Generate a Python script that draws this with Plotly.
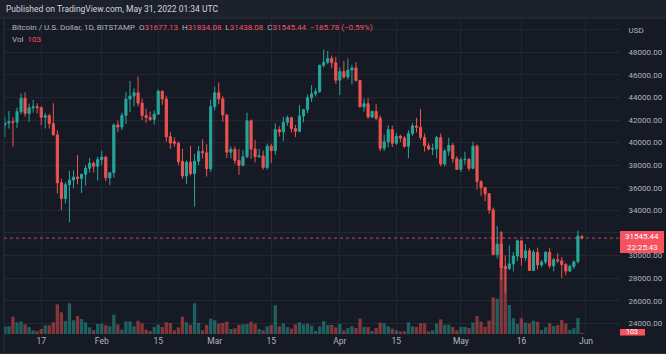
import pandas as pd
import plotly.graph_objects as go

dates = pd.date_range("2022-01-08", "2022-05-31", freq="D")

open_ = [
    # Jan 8-31
    41560, 41730, 41850, 41820, 42740, 43930, 42590, 43080, 43180, 43100, 42250, 42380,
    41690, 40700, 36450, 35050, 36270, 36690, 36950, 36820, 37200, 37730, 38170, 37900,
    # Feb
    38500, 38720, 36880, 37330, 41570, 41380, 42400, 43850, 44130, 44420, 43500, 42400,
    42220, 42050, 42530, 44560, 43870, 40520, 40080, 39950, 38330, 37050, 38270, 37250,
    38350, 39220, 39100, 37680,
    # Mar
    43190, 44420, 43880, 42450, 39150, 39400, 38420, 37990, 38740, 41940, 39430, 38750,
    38820, 37790, 39680, 39290, 41150, 40950, 41800, 42200, 41250, 41000, 42360, 42920,
    43980, 44320, 44520, 46850, 47120, 47460, 47070,
    # Apr
    45530, 46290, 45820, 46430, 46620, 45500, 43170, 43450, 42270, 42770, 42160, 39500,
    40070, 41150, 39940, 40560, 40400, 39680, 40800, 41480, 41360, 40470, 39720, 39430,
    39460, 40450, 38110, 39250, 39750, 38580,
    # May
    37630, 38480, 38520, 37720, 39690, 36550, 36010, 35470, 34040, 30080, 31010, 29050,
    28850, 29260, 29950, 31300, 29800, 30420, 28680, 30280, 29170, 29430, 30280, 29090,
    29630, 29530, 29200, 28620, 29020, 29450, 31677.13,
]
high = [
    42300, 42800, 42250, 43100, 44350, 44450, 43450, 43780, 43480, 43200, 42650, 42550,
    43480, 41100, 36800, 36500, 37500, 37550, 38900, 37250, 38000, 38650, 38350, 38750,
    39285, 38850, 37400, 41700, 41950, 42650, 44500, 45460, 44800, 45840, 43900, 43000,
    42750, 42850, 44700, 44600, 44150, 40950, 40450, 40100, 39450, 38400, 39700, 39000,
    39700, 40290, 39850, 43800,
    44950, 45340, 44100, 42500, 39650, 39650, 39450, 39350, 42650, 42050, 40230, 39450,
    39300, 39900, 39900, 41700, 41450, 42300, 42400, 42300, 41550, 43350, 43000, 44250,
    45100, 44800, 46900, 48250, 48120, 47700, 47600,
    46650, 47230, 47450, 46900, 47150, 45550, 43900, 43950, 42800, 43400, 42400, 40700,
    41550, 41500, 40850, 40700, 40600, 41100, 41750, 42200, 42980, 40800, 39950, 39900,
    40600, 40800, 39450, 40440, 39950, 38800,
    38700, 39200, 38650, 40080, 39850, 36650, 36100, 35500, 34250, 32620, 32150, 30000,
    30900, 30300, 31400, 31330, 31000, 30650, 30500, 30700, 29600, 30400, 30650, 29800,
    30200, 29850, 29350, 29200, 29550, 32200, 31834.08,
]
low = [
    40500, 41250, 39650, 41270, 42500, 42300, 41850, 42650, 42600, 41550, 41250, 41250,
    40600, 35500, 34030, 34600, 32950, 35950, 36300, 35540, 36200, 37350, 37350, 36630,
    38000, 36600, 36250, 36900, 40950, 41100, 41650, 42700, 43200, 43200, 42000, 41750,
    41900, 41600, 42450, 43350, 40100, 39450, 39650, 38000, 36800, 36340, 37100, 34330,
    38000, 38600, 37000, 37400,
    42850, 43400, 41850, 38650, 38600, 38100, 37160, 37900, 38650, 38550, 38250, 38650,
    37600, 37600, 38200, 38900, 40550, 40150, 41500, 40900, 40500, 40900, 41800, 42600,
    43600, 44100, 44400, 46650, 46950, 46600, 45200,
    44220, 45650, 45600, 45150, 45400, 43150, 42750, 42100, 42150, 42000, 39250, 39250,
    39600, 39600, 39800, 40050, 39550, 38610, 40600, 40900, 40250, 39200, 39300, 38900,
    38610, 37900, 37900, 38850, 38200, 37600,
    37400, 38050, 37500, 37650, 35850, 35300, 34800, 33700, 30050, 29750, 27800, 26700,
    28700, 28600, 29500, 29100, 29500, 28650, 28650, 28750, 28950, 29250, 28850, 28600,
    29350, 28000, 28250, 28550, 28800, 29300, 31438.08,
]
close = [
    41730, 41850, 41800, 42740, 43930, 42590, 43080, 43180, 43100, 42250, 42380, 41690,
    40700, 36450, 35050, 36270, 36690, 36950, 36820, 37200, 37730, 38170, 37900, 38500,
    38720, 36880, 37330, 41570, 41380, 42400, 43850, 44130, 44420, 43500, 42400, 42220,
    42050, 42530, 44560, 43870, 40520, 39960, 39950, 38330, 37050, 38270, 37250, 38350,
    39220, 39100, 37680, 43190,
    44420, 43880, 42450, 39150, 39400, 38420, 37990, 38740, 41940, 39430, 38750, 38820,
    37790, 39680, 39290, 41150, 40950, 41800, 42200, 41250, 41000, 42360, 42920, 43980,
    44320, 44520, 46850, 47120, 47460, 47070, 45530,
    46290, 45820, 46430, 46620, 45500, 43170, 43450, 42270, 42770, 42160, 39500, 40070,
    41150, 39940, 40560, 40400, 39680, 40800, 41480, 41360, 40470, 39720, 39430, 39460,
    40450, 38110, 39250, 39750, 38580, 37630,
    38480, 38520, 37720, 39690, 36550, 36010, 35470, 34040, 30080, 31010, 28940, 28850,
    29260, 29950, 31300, 29800, 30420, 28680, 30280, 29170, 29430, 30280, 29090, 29630,
    29530, 29200, 28620, 29020, 29450, 31731.22, 31545.44,
]
volume = [
    690, 690, 1560, 1050, 1140, 870, 630, 330, 270, 450, 780, 780,
    1050, 2670, 1950, 1170, 2760, 1230, 1620, 1350, 1050, 600, 330, 900,
    930, 780, 690, 1740, 840, 390, 1140, 1140, 690, 1200, 960, 390,
    270, 630, 840, 630, 1050, 990, 330, 600, 1560, 1050, 840, 2760,
    990, 330, 810, 1380,
    1230, 930, 990, 1110, 450, 510, 840, 870, 900, 1110, 930, 450,
    330, 690, 810, 2580, 690, 960, 630, 480, 870, 1050, 870, 930,
    750, 270, 690, 1170, 810, 810, 600,
    900, 330, 540, 690, 540, 1380, 630, 630, 270, 540, 1020, 960,
    690, 480, 330, 240, 240, 1050, 690, 630, 960, 960, 240, 330,
    960, 1320, 840, 840, 630, 330,
    630, 630, 540, 1020, 1620, 1110, 630, 1200, 3300, 3180, 9180, 5910,
    2610, 1410, 900, 1410, 1020, 960, 1200, 1110, 360, 600, 960, 720,
    810, 1260, 960, 360, 510, 1440, 103,
]

tick_dates = ["2022-01-17", "2022-02-01", "2022-02-15", "2022-03-01", "2022-03-15",
              "2022-04-01", "2022-04-15", "2022-05-01", "2022-05-16", "2022-06-01"]
tick_text = ["17", "Feb", "15", "Mar", "15", "Apr", "15", "May", "16", "Jun"]
price_ticks = list(range(24000, 50001, 2000))
price_text = [f"{v:.2f}" for v in price_ticks[:-1]] + ["USD"]

last_close = close[-1]
UP, DOWN = "#26a69a", "#ef5350"
BG = "#161a25"
GRID = "#232733"
TXT = "#b2b5be"
FONT = "Roboto"
RED = "#f7525f"

vol_colors = ["rgba(38,166,154,0.5)" if c >= o else "rgba(239,83,80,0.5)"
              for o, c in zip(open_, close)]

fig = go.Figure()
fig.add_trace(go.Bar(x=dates, y=volume, marker=dict(color=vol_colors, line=dict(width=0)),
                     yaxis="y2", hoverinfo="skip", showlegend=False))
fig.add_trace(go.Candlestick(
    x=dates, open=open_, high=high, low=low, close=close,
    increasing=dict(line=dict(color=UP, width=1), fillcolor=UP),
    decreasing=dict(line=dict(color=DOWN, width=1), fillcolor=DOWN),
    whiskerwidth=0, showlegend=False))

W, H = 666, 354
ml, mr, mt, mb = 4, 46, 18, 20

fig.update_layout(
    width=W, height=H,
    margin=dict(l=ml, r=mr, t=mt, b=mb, pad=0),
    paper_bgcolor=BG, plot_bgcolor=BG,
    font=dict(family=FONT, color=TXT, size=8),
    bargap=0.18, boxgap=0.25,
    xaxis=dict(type="date", range=["2022-01-07 18:43", "2022-06-09 10:19"],
               rangeslider=dict(visible=False),
               tickvals=tick_dates, ticktext=tick_text,
               showgrid=True, gridcolor=GRID, gridwidth=1,
               zeroline=False, showline=False, ticks="",
               tickfont=dict(size=8.5, color=TXT), fixedrange=True),
    yaxis=dict(range=[23050, 51038], side="right",
               tickvals=price_ticks, ticktext=price_text,
               showgrid=True, gridcolor=GRID, gridwidth=1,
               zeroline=False, showline=False,
               ticks="outside", ticklen=6, tickcolor="rgba(0,0,0,0)",
               tickfont=dict(size=8, color=TXT)),
    yaxis2=dict(overlaying="y", range=[0, 28440], visible=False),
)

# header strip and frame
fig.add_shape(type="rect", xref="paper", yref="paper", x0=-0.02, x1=1.1,
              y0=1.0, y1=1.08, fillcolor="#1d212c", line=dict(width=0), layer="below")
fig.add_shape(type="line", xref="paper", yref="paper", x0=-0.02, x1=1.1,
              y0=1.0, y1=1.0, line=dict(color="#2a2e39", width=1))
fig.add_shape(type="line", xref="paper", yref="paper", x0=0, x1=0,
              y0=-0.06, y1=1.0, line=dict(color="#2a2e39", width=1))
fig.add_shape(type="rect", xref="paper", yref="paper", x0=-0.02, x1=1.1,
              y0=-0.075, y1=-0.06, fillcolor="#2a2e39", line=dict(width=0))

# last price dotted line
fig.add_shape(type="line", xref="paper", yref="y", x0=0, x1=1, y0=last_close, y1=last_close,
              line=dict(color=RED, width=1, dash="dot"), opacity=0.8)
# price label box
fig.add_shape(type="rect", xref="paper", yref="paper", x0=1.0, x1=1.0 + 44 / 616,
              y0=(334 - 253) / 316, y1=(334 - 231) / 316,
              fillcolor=RED, line=dict(width=0), layer="above")
fig.add_annotation(xref="paper", yref="paper", x=1.0 + 22 / 616, y=(334 - 236.5) / 316,
                   text=f"{last_close:.2f}", showarrow=False, xanchor="center", yanchor="middle",
                   font=dict(color="white", size=8, family=FONT), borderpad=0)
fig.add_annotation(xref="paper", yref="paper", x=1.0 + 22 / 616, y=(334 - 247.5) / 316,
                   text="22:25:43", showarrow=False, xanchor="center", yanchor="middle",
                   font=dict(color="white", size=8, family=FONT), borderpad=0)
# volume label box
fig.add_shape(type="rect", xref="paper", yref="paper", x0=1.0, x1=1.0 + 25 / 616,
              y0=-0.005, y1=(334 - 329) / 316, fillcolor=RED, line=dict(width=0), layer="above")
fig.add_annotation(xref="paper", yref="paper", x=1.0 + 12 / 616, y=(334 - 332) / 316,
                   text=str(volume[-1]), showarrow=False, xanchor="center", yanchor="middle",
                   font=dict(color="white", size=7, family=FONT))

# header text
fig.add_annotation(xref="paper", yref="paper", x=0.0, y=(334 - 9) / 316,
                   text="Published on TradingView.com, May 31, 2022 01:34 UTC",
                   showarrow=False, xanchor="left", yanchor="middle",
                   font=dict(color="#d1d4dc", size=8.5, family=FONT))


def red(s):
    return f"<span style='color:{RED}'>{s}</span>"


chg = close[-1] - close[-2]
pct = chg / close[-2] * 100
sign = "\u2212" if chg < 0 else "+"
legend = ("Bitcoin / U.S. Dollar, 1D, BITSTAMP  "
          f"O{red(f'{open_[-1]:.2f}')}  H{red(f'{high[-1]:.2f}')}  "
          f"L{red(f'{low[-1]:.2f}')}  C{red(f'{close[-1]:.2f}')}  "
          + red(f"{sign}{abs(chg):.2f} ({sign}{abs(pct):.2f}%)"))
fig.add_annotation(xref="paper", yref="paper", x=6 / 616, y=(334 - 27) / 316,
                   text=legend, showarrow=False, xanchor="left", yanchor="middle",
                   font=dict(color=TXT, size=8, family=FONT))
fig.add_annotation(xref="paper", yref="paper", x=6 / 616, y=(334 - 39.5) / 316,
                   text="Vol  " + red(str(volume[-1])), showarrow=False,
                   xanchor="left", yanchor="middle",
                   font=dict(color=TXT, size=8, family=FONT))

fig.write_html("out.html")
